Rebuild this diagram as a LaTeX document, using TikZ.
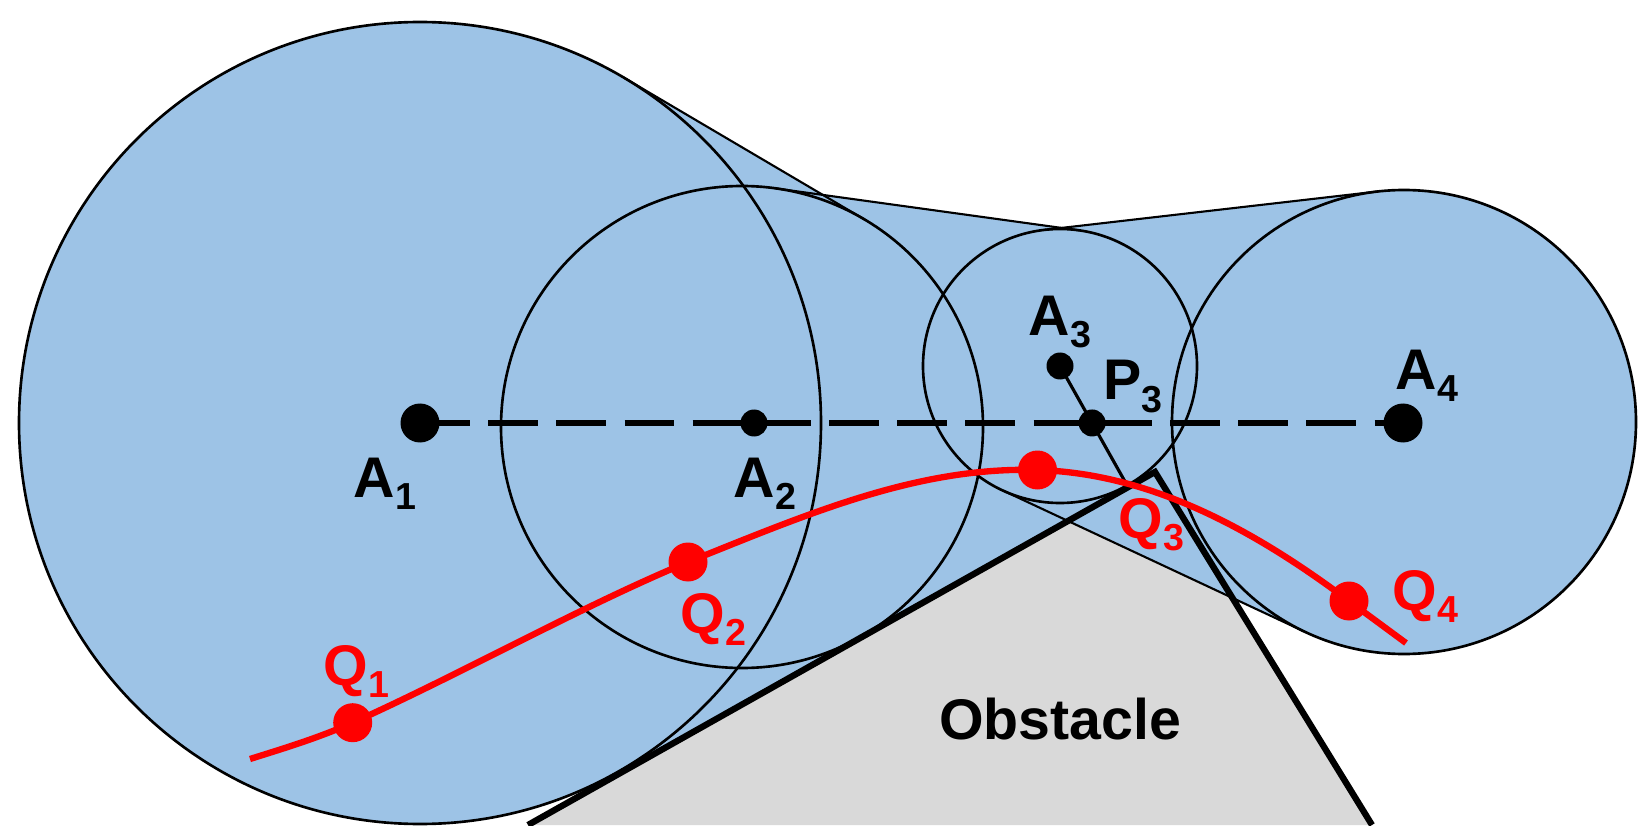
\documentclass[tikz,border=0pt]{standalone}
\usepackage{fontspec}
\setmainfont{Liberation Sans}
\usetikzlibrary{calc}
\definecolor{tubeblue}{RGB}{157,195,230}
\definecolor{obstgray}{RGB}{217,217,217}
\newcommand{\ptlabel}[2]{#1\raisebox{-3.5pt}{\fontsize{10.7}{11}\selectfont #2}}

\begin{document}
\begin{tikzpicture}[
    ring/.style={draw=black, line width=0.75pt},
    tangent/.style={draw=black, line width=0.6pt},
    wall/.style={draw=black, line width=1.8pt, line join=miter},
    bigdot/.style={circle, fill=black, inner sep=0pt, minimum size=0.39cm},
    smalldot/.style={circle, fill=black, inner sep=0pt, minimum size=0.27cm},
    reddot/.style={circle, fill=red, inner sep=0pt, minimum size=0.39cm},
    lbl/.style={font=\fontsize{16.3}{18}\selectfont\bfseries, inner sep=0pt, anchor=base west},
  ]
  \useasboundingbox (0,0) rectangle (16.45,8.25);

  % circle centres
  \coordinate (c1) at (4.20,4.02);
  \coordinate (c2) at (7.42,3.98);
  \coordinate (c3) at (10.60,4.59);
  \coordinate (c4) at (14.04,4.03);
  % tangent points
  \coordinate (t1up) at (6.236,7.475);
  \coordinate (t2up) at (8.644,6.056);
  \coordinate (t2upb) at (7.750,6.367);
  \coordinate (t3up) at (10.788,5.947);
  \coordinate (t3upb) at (10.443,5.951);
  \coordinate (t4up) at (13.774,6.335);
  \coordinate (t3low) at (10.020,3.349);
  \coordinate (t4low) at (13.057,1.928);
  \coordinate (f1) at (6.178,0.506);
  \coordinate (f3) at (11.278,3.377);
  % obstacle corners
  \coordinate (o1) at (5.28,0);
  \coordinate (o2) at (11.55,3.53);
  \coordinate (o3) at (13.72,0);

  \fill[obstgray] (o1) -- (o2) -- (o3) -- cycle;

  % swept tube
  \fill[tubeblue] (c1) circle (4.01);
  \fill[tubeblue] (c2) circle (2.41);
  \fill[tubeblue] (c3) circle (1.37);
  \fill[tubeblue] (c4) circle (2.32);
  \fill[tubeblue] (c1) -- (t1up) -- (t2up) -- (c2) -- cycle;
  \fill[tubeblue] (c2) -- (t2upb) -- (t3up) -- (c3) -- cycle;
  \fill[tubeblue] (c3) -- (t3upb) -- (t4up) -- (c4) -- (t4low) -- (t3low) -- cycle;
  \fill[tubeblue] (c1) -- (f1) -- (f3) -- (c3) -- (c2) -- cycle;

  \draw[ring] (c1) circle (4.01);
  \draw[ring] (c2) circle (2.41);
  \draw[ring] (c3) circle (1.37);
  \draw[ring] (c4) circle (2.32);
  \draw[tangent] (t1up) -- (t2up);
  \draw[tangent] (t2upb) -- (t3up);
  \draw[tangent] (t3upb) -- (t4up);
  \draw[tangent] (t3low) -- (t4low);

  \draw[wall] (o1) -- (o2) -- (o3);
  \node[font=\fontsize{16.3}{18}\selectfont\bfseries, inner sep=0pt, anchor=base] (obsText) at (10.60,0.854) {Obstacle};

  % centre line and closest point
  \coordinate (a1) at (4.20,4.02);
  \coordinate (a2) at (7.54,4.02);
  \coordinate (a4) at (14.03,4.02);
  \coordinate (foot) at ($(o1)!(c3)!(o2)$);
  \coordinate (p3) at (intersection of c3--foot and a1--a4);
  \draw[line width=1.7pt, dash pattern=on 14.2pt off 5.2pt] (a1) -- (a4);
  \draw[line width=0.9pt] (c3) -- (foot);

  \node[bigdot] (A1) at (a1) {};
  \node[smalldot] (A2) at (a2) {};
  \node[smalldot] (A3) at (c3) {};
  \node[smalldot] (P3) at (p3) {};
  \node[bigdot] (A4) at (a4) {};

  % path of the end effector
  \coordinate (qs) at (2.50,0.66);
  \coordinate (q1) at (3.527,1.023);
  \coordinate (q2) at (6.88,2.63);
  \coordinate (q3) at (10.375,3.55);
  \coordinate (q4) at (13.49,2.24);
  \coordinate (qe) at (14.06,1.82);
  \draw[red, line width=1.8pt] (qs) .. controls (2.85,0.77) and (3.18,0.87) .. (q1)
    .. controls (4.63,1.52) and (5.78,2.17) .. (q2)
    .. controls (8.08,3.11) and (9.175,3.586) .. (q3)
    .. controls (11.475,3.517) and (12.49,2.99) .. (q4) -- (qe);
  \node[reddot] (Q1) at (q1) {};
  \node[reddot] (Q2) at (q2) {};
  \node[reddot] (Q3) at (q3) {};
  \node[reddot] (Q4) at (q4) {};

  \node[lbl] (labA1) at (3.53,3.28) {\ptlabel{A}{1}};
  \node[lbl] (labA2) at (7.33,3.28) {\ptlabel{A}{2}};
  \node[lbl] (labA3) at (10.28,4.90) {\ptlabel{A}{3}};
  \node[lbl] (labP3) at (11.03,4.25) {\ptlabel{P}{3}};
  \node[lbl] (labA4) at (13.95,4.36) {\ptlabel{A}{4}};
  \node[lbl, text=red] (labQ1) at (3.23,1.40) {\ptlabel{Q}{1}};
  \node[lbl, text=red] (labQ2) at (6.80,1.92) {\ptlabel{Q}{2}};
  \node[lbl, text=red] (labQ3) at (11.18,2.87) {\ptlabel{Q}{3}};
  \node[lbl, text=red] (labQ4) at (13.92,2.15) {\ptlabel{Q}{4}};
\end{tikzpicture}
\end{document}
